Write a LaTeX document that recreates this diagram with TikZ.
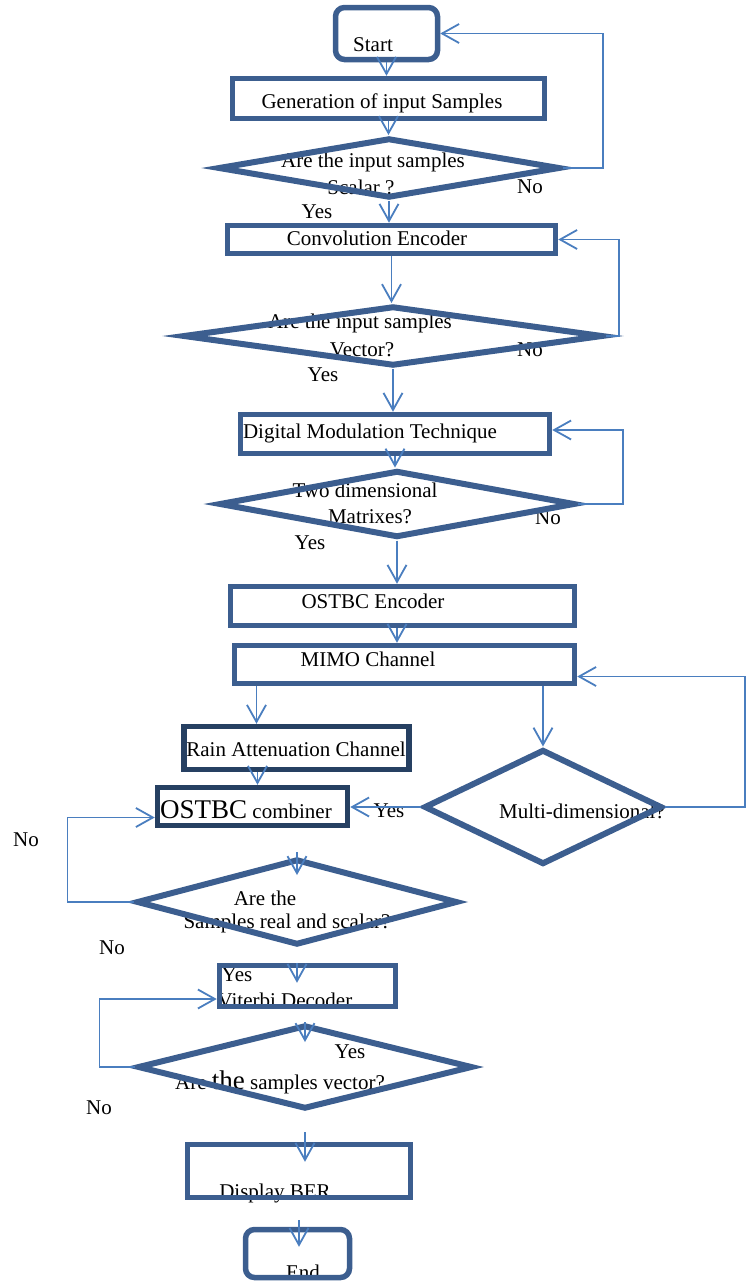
\documentclass[tikz,border=0pt]{standalone}
\usepackage{fontspec}
\setmainfont{Liberation Serif}
\usepackage{xcolor}
\usepackage{tikz}
\usetikzlibrary{arrows.meta,positioning,shapes.geometric}
\definecolor{boxblue}{RGB}{60,94,143}
\definecolor{navybox}{RGB}{38,64,98}
\definecolor{lineblue}{RGB}{74,126,191}

\begin{document}
\begin{tikzpicture}[x=1pt, y=-1pt,
    block/.style={rectangle, draw=boxblue, line width=5.5pt, inner sep=0pt},
    navyblock/.style={block, draw=navybox},
    terminal/.style={block, rounded corners=9pt},
    decision/.style={diamond, draw=boxblue, line width=6pt, inner sep=0pt},
    txt/.style={inner sep=0pt, font=\fontsize{21}{24}\selectfont},
    flow/.style={-{Straight Barb[length=17pt, width=19pt]}, line width=1.8pt, lineblue}
]
    \useasboundingbox (0,0) rectangle (747,1283);

    % texts first, the borders go over them
    \node[txt] (tstart) at (373,45) {Start};
    \node[txt] (tgen) at (382,103) {Generation of input Samples};
    \node[txt] (tq1a) at (373,162) {Are the input samples};
    \node[txt] (tq1b) at (361,187) {Scalar ?};
    \node[txt] (no1) at (530,187) {No};
    \node[txt] (yes1) at (317,212) {Yes};
    \node[txt] (tconv) at (377,238) {Convolution Encoder};
    \node[txt] (tq2a) at (360,323) {Are the input samples};
    \node[txt] (tq2b) at (362,350) {Vector?};
    \node[txt] (no2) at (530,350) {No};
    \node[txt] (yes2) at (323,375) {Yes};
    \node[txt] (tmod) at (370,433) {Digital Modulation Technique};
    \node[txt] (tq3a) at (365,490) {Two dimensional};
    \node[txt] (tq3b) at (370,517) {Matrixes?};
    \node[txt] (no3) at (548,518) {No};
    \node[txt] (yes3) at (310,543) {Yes};
    \node[txt] (tenc) at (373,601) {OSTBC Encoder};
    \node[txt] (tmimo) at (368,659) {MIMO Channel};
    \node[txt] (train) at (296,749) {Rain Attenuation Channel};
    \node[txt] (tcomb) at (246,810) {{\fontsize{27}{30}\selectfont OSTBC} combiner};
    \node[txt] (yes4) at (389,811) {Yes};
    \node[txt] (tmulti) at (582,811) {Multi-dimensional?};
    \node[txt] (tq5a) at (265,898) {Are the};
    \node[txt] (tq5b) at (287,923) {Samples real and scalar?};
    \node[txt] (no5a) at (26,840) {No};
    \node[txt] (no5b) at (112,948) {No};
    \node[txt] (yes5) at (237,975) {Yes};
    \node[txt] (tvit) at (285,1000) {Viterbi Decoder};
    \node[txt] (yes6) at (350,1052) {Yes};
    \node[txt] (tq6) at (280,1082) {Are {\fontsize{27}{30}\selectfont the} samples vector?};
    \node[txt] (no6) at (99,1108) {No};
    \node[txt] (tber) at (275,1193) {Display BER};
    \node[txt] (tend) at (303,1272) {End};

    % shapes
    \node[terminal, minimum width=102pt, minimum height=52pt] (start) at (386.5,33.5) {};
    \node[block, minimum width=312pt, minimum height=40pt] (gen) at (388.5,98.5) {};
    \node[decision, minimum width=342pt, minimum height=60pt] (q1) at (389,168) {};
    \node[block, minimum width=328pt, minimum height=28pt] (conv) at (391.5,239.5) {};
    \node[decision, minimum width=420pt, minimum height=60pt] (q2) at (393,336) {};
    \node[block, minimum width=309pt, minimum height=39pt] (mod) at (395,434) {};
    \node[decision, minimum width=356pt, minimum height=67pt] (q3) at (397,504) {};
    \node[block, minimum width=344pt, minimum height=39pt] (enc) at (402.5,606) {};
    \node[block, minimum width=340pt, minimum height=38pt] (mimo) at (404.5,664.5) {};
    \node[navyblock, minimum width=225pt, minimum height=43pt] (rain) at (296.5,748) {};
    \node[navyblock, minimum width=190pt, minimum height=38pt] (comb) at (252.5,806.5) {};
    \node[decision, minimum width=238pt, minimum height=115pt] (multi) at (543,807) {};
    \node[decision, minimum width=321pt, minimum height=86pt] (q5) at (297,902) {};
    \node[block, minimum width=176pt, minimum height=41pt] (vit) at (307.5,986) {};
    \node[decision, minimum width=335pt, minimum height=84pt] (q6) at (305,1067) {};
    \node[block, minimum width=223pt, minimum height=53pt] (ber) at (299,1171) {};
    \node[terminal, minimum width=104pt, minimum height=48pt] (finish) at (297.5,1253.5) {};

    % main flow
    \draw[flow] (start.south) -- (start.south |- gen.north);
    \draw[flow] (gen.south) -- (gen.south |- q1.north);
    \draw[flow] (q1.south) -- (q1.south |- conv.north);
    \draw[flow] (conv.south) -- (conv.south |- q2.north);
    \draw[flow] (q2.south) -- (q2.south |- mod.north);
    \draw[flow] (mod.south) -- (mod.south |- q3.north);
    \draw[flow] (q3.south) -- (q3.south |- enc.north);
    \draw[flow] (q3.south |- enc.south) -- (q3.south |- mimo.north);
    \draw[flow] ([xshift=-40pt]rain.north |- mimo.south) -- ([xshift=-40pt]rain.north);
    \draw[flow] (multi.north |- mimo.south) -- (multi.north);
    \draw[flow] ([xshift=-39pt]rain.south) -- ([xshift=-39pt]rain.south |- comb.north);
    \draw[flow] (multi.west) -- (multi.west -| comb.east);
    \draw[flow] ([yshift=4pt]q5.north) -- ([yshift=-19pt]q5.north);
    \draw[flow] (q5.south |- vit.north) -- ([yshift=-20pt]q5.south |- vit.north);
    \draw[flow] (q6.north) -- ([yshift=-20pt]q6.north);
    \draw[flow] ([yshift=-20pt]q6.south) -- ([yshift=-20pt]q6.south |- ber.north);
    \draw[flow] ([yshift=-20pt]ber.south) -- ([yshift=-20pt]ber.south |- finish.north);

    % the No loops
    \draw[flow] (q1.east) -- ++(40,0) |- (start.east);
    \draw[flow] (q2.east) -- ++(13,0) |- (conv.east);
    \draw[flow] (q3.east) -- ++(45,0) |- ([yshift=4pt]mod.east);
    \draw[flow] (multi.east) -- ++(80,0) |- ([yshift=-12pt]mimo.east);
    \draw[flow] (q5.west) -- ++(-66,0) |- ([yshift=-11pt]comb.west);
    \draw[flow] (q6.west) -- ++(-35,0) |- ([yshift=-13pt]vit.west);
\end{tikzpicture}
\end{document}
